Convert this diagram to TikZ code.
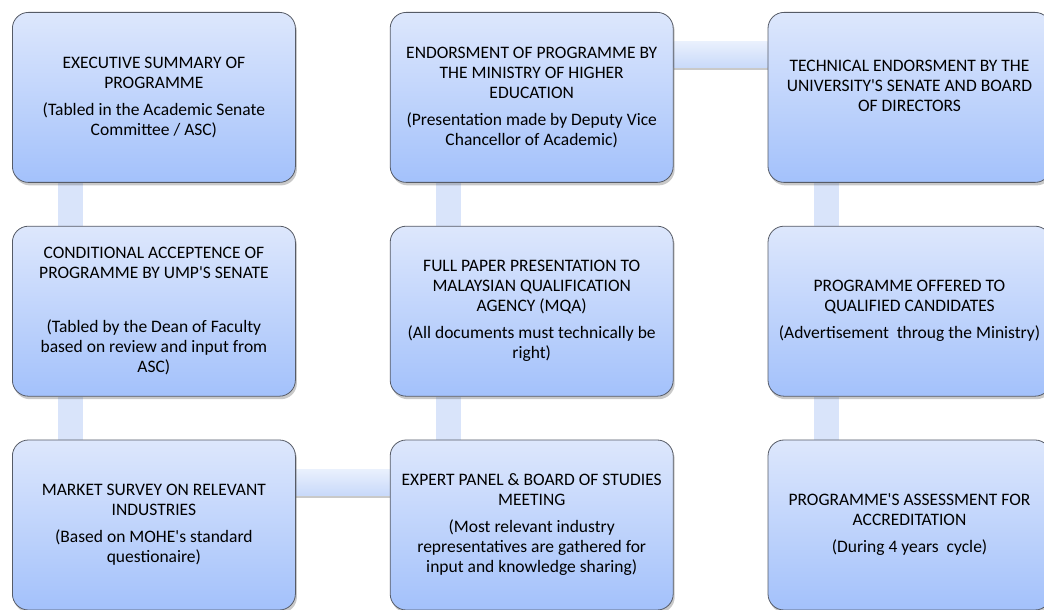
\documentclass[tikz,border=0pt]{standalone}
\usepackage{fontspec}
\setmainfont{Carlito}[Ligatures=TeXOff]
\usepackage{tikz}
\usetikzlibrary{positioning,shadows}
\pgfdeclarelayer{background}
\pgfsetlayers{background,main}
\definecolor{boxtop}{HTML}{DDE7FC}
\definecolor{boxbot}{HTML}{A3C1FB}
\definecolor{barcol}{HTML}{D9E4FA}
\definecolor{bartop}{HTML}{E9F0FD}
\definecolor{barbot}{HTML}{C8D9FA}
\definecolor{edgecol}{HTML}{565B66}

\begin{document}
\begin{tikzpicture}[x=1pt,y=1pt,
            stage/.style={draw=edgecol,line width=0.8pt,rounded corners=16pt,top color=boxtop,bottom color=boxbot,
                          minimum width=283pt,minimum height=170pt,inner sep=0pt,align=center,
                          font=\fontsize{17.5}{20}\selectfont,
                          drop shadow={shadow xshift=1.5pt,shadow yshift=-3pt,opacity=0.3,fill=black!70}},
            vlink/.style={fill=barcol},
            hlink/.style={top color=bartop,bottom color=barbot,
                          drop shadow={shadow xshift=0pt,shadow yshift=-2.5pt,opacity=0.3,fill=black!70}},
            node distance=43pt and 94pt
          ]
          \useasboundingbox (0,0) rectangle (1044,610);

          %first column
          \node[stage,anchor=north west] (survey) at (12,598) {EXECUTIVE SUMMARY OF\\PROGRAMME\\[7pt](Tabled in the Academic Senate\\Committee / ASC)};
          \node[stage,below=of survey] (accept) {CONDITIONAL ACCEPTENCE OF\\PROGRAMME BY UMP'S SENATE\\[34pt](Tabled by the Dean of Faculty\\based on review and input from\\ASC)};
          \node[stage,below=of accept] (market) {MARKET SURVEY ON RELEVANT\\INDUSTRIES\\[7pt](Based on MOHE's standard\\questionaire)};

          %second column
          \node[stage,right=of survey] (ministry) {ENDORSMENT OF PROGRAMME BY\\THE MINISTRY OF HIGHER\\EDUCATION\\[7pt](Presentation made by Deputy Vice\\Chancellor of Academic)};
          \node[stage,below=of ministry] (mqa) {FULL PAPER PRESENTATION TO\\MALAYSIAN QUALIFICATION\\AGENCY (MQA)\\[7pt](All documents must technically be\\right)};
          \node[stage,below=of mqa] (panel) {EXPERT PANEL \& BOARD OF STUDIES\\MEETING\\[7pt](Most relevant industry\\representatives are gathered for\\input and knowledge sharing)};

          %third column
          \node[stage,right=of ministry] (senate) {TECHNICAL ENDORSMENT BY THE\\UNIVERSITY'S SENATE AND BOARD\\OF DIRECTORS\\[4pt]\mbox{}};
          \node[stage,below=of senate] (offer) {PROGRAMME OFFERED TO\\QUALIFIED CANDIDATES\\[7pt](Advertisement\ \ throug the Ministry)};
          \node[stage,below=of offer] (assess) {PROGRAMME'S ASSESSMENT FOR\\ACCREDITATION\\[7pt](During 4 years\ \ cycle)};

          %links
          \begin{pgfonlayer}{background}
          \path[vlink] ([xshift=46pt]survey.south west) rectangle ([xshift=71pt]accept.north west);
          \path[vlink] ([xshift=46pt]accept.south west) rectangle ([xshift=71pt]market.north west);
          \path[hlink] ([yshift=-30pt]market.north east) rectangle ([yshift=-56pt]panel.north west);
          \path[vlink] ([xshift=46pt]panel.north west) rectangle ([xshift=71pt]mqa.south west);
          \path[vlink] ([xshift=46pt]mqa.north west) rectangle ([xshift=71pt]ministry.south west);
          \path[hlink] ([yshift=-30pt]ministry.north east) rectangle ([yshift=-56pt]senate.north west);
          \path[vlink] ([xshift=46pt]senate.south west) rectangle ([xshift=71pt]offer.north west);
          \path[vlink] ([xshift=46pt]offer.south west) rectangle ([xshift=71pt]assess.north west);
          \end{pgfonlayer}

      \end{tikzpicture}
\end{document}
